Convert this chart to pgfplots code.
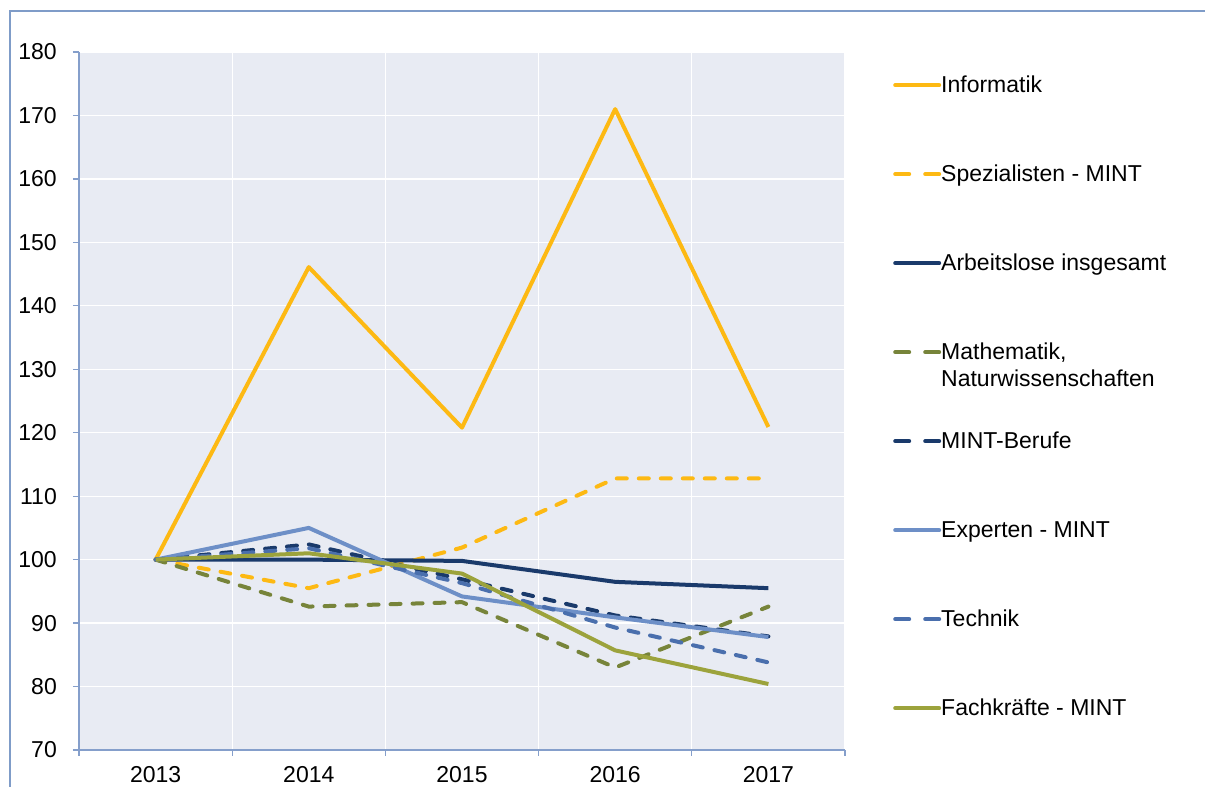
\documentclass[border=0pt]{standalone}
\usepackage{fontspec}
\setmainfont{Liberation Sans}
\usepackage{pgfplots}
\pgfplotsset{compat=1.18}
\definecolor{axiscol}{HTML}{859FCB}
\definecolor{framecol}{HTML}{7F9CC8}
\definecolor{bgcol}{HTML}{E8EBF3}
\definecolor{orange}{HTML}{FDB913}
\definecolor{navy}{HTML}{1A3A6B}
\definecolor{olived}{HTML}{77843A}
\definecolor{lightblue}{HTML}{6D8FC7}
\definecolor{midblue}{HTML}{4A6FAD}
\definecolor{oliveg}{HTML}{9CA33C}
\begin{document}
\begin{tikzpicture}
\useasboundingbox (0,0) rectangle (1205pt,787pt);
\begin{axis}[
  at={(79pt,37pt)}, anchor=south west,
  scale only axis, width=766pt, height=698pt,
  xmin=-0.5, xmax=4.5, ymin=70, ymax=180,
  axis lines*=left,
  axis line style={draw=axiscol, line width=1.3pt},
  axis background/.style={fill=bgcol},
  xtick={-0.5,0.5,1.5,2.5,3.5,4.5},
  xticklabels={2013,2014,2015,2016,2017,},
  xticklabel style={xshift=76.6pt, inner sep=0pt, yshift=-10pt},
  ytick={70,80,...,180},
  yticklabel style={inner sep=0pt, xshift=-16pt},
  tick align=outside, major tick length=6pt,
  tick style={draw=axiscol, line width=1.3pt},
  grid=major,
  major grid style={draw=white, line width=1.2pt},
  ticklabel style={font=\fontsize{23}{27}\selectfont},
  /pgf/number format/assume math mode=true,
  every axis plot/.append style={line width=4pt, line join=round},
  legend cell align=left,
  legend style={draw=none, fill=none, inner sep=0pt,
    at={(axis description cs:1,1)}, anchor=north west, xshift=48pt, yshift=-23pt,
    font=\fontsize{23}{27}\selectfont, row sep=67pt,
    nodes={inner sep=0pt, text height=17pt, text depth=5pt},
    /tikz/every even column/.append style={column sep=4pt}},
  legend image code/.code={\draw[#1, line cap=round] (0pt,1pt) -- (44pt,1pt);},
]
\addplot[orange] coordinates {(0,100) (1,146.1) (2,120.8) (3,171.0) (4,120.9)};
\addlegendentry{Informatik}
\addplot[orange, line cap=round, dash pattern=on 10pt off 12pt, legend image post style={dash pattern=on 14pt off 16pt}] coordinates {(0,100) (1,95.5) (2,101.9) (3,112.8) (4,112.8)};
\addlegendentry{Spezialisten - MINT}
\addplot[navy] coordinates {(0,100) (1,100.0) (2,99.8) (3,96.5) (4,95.5)};
\addlegendentry{Arbeitslose insgesamt}
\addplot[olived, line cap=round, dash pattern=on 10pt off 12pt, legend image post style={dash pattern=on 14pt off 16pt}] coordinates {(0,100) (1,92.6) (2,93.3) (3,83.0) (4,92.6)};
\addlegendentry{\begin{tabular}[t]{@{}l@{}}Mathematik,\\Naturwissenschaften\end{tabular}}
\addplot[navy, line cap=round, dash pattern=on 10pt off 12pt, legend image post style={dash pattern=on 14pt off 16pt}] coordinates {(0,100) (1,102.4) (2,96.9) (3,91.2) (4,87.9)};
\addlegendentry{MINT-Berufe}
\addplot[lightblue] coordinates {(0,100) (1,105.0) (2,94.2) (3,90.9) (4,87.8)};
\addlegendentry{Experten - MINT}
\addplot[midblue, line cap=round, dash pattern=on 10pt off 12pt, legend image post style={dash pattern=on 14pt off 16pt}] coordinates {(0,100) (1,101.8) (2,96.3) (3,89.3) (4,83.8)};
\addlegendentry{Technik}
\addplot[oliveg] coordinates {(0,100) (1,101.0) (2,97.8) (3,85.7) (4,80.4)};
\addlegendentry{Fachkräfte - MINT}
\end{axis}
\draw[framecol, line width=1.5pt] (10pt,0pt) -- (10pt,776pt) -- (1205pt,776pt);
\end{tikzpicture}
\end{document}
